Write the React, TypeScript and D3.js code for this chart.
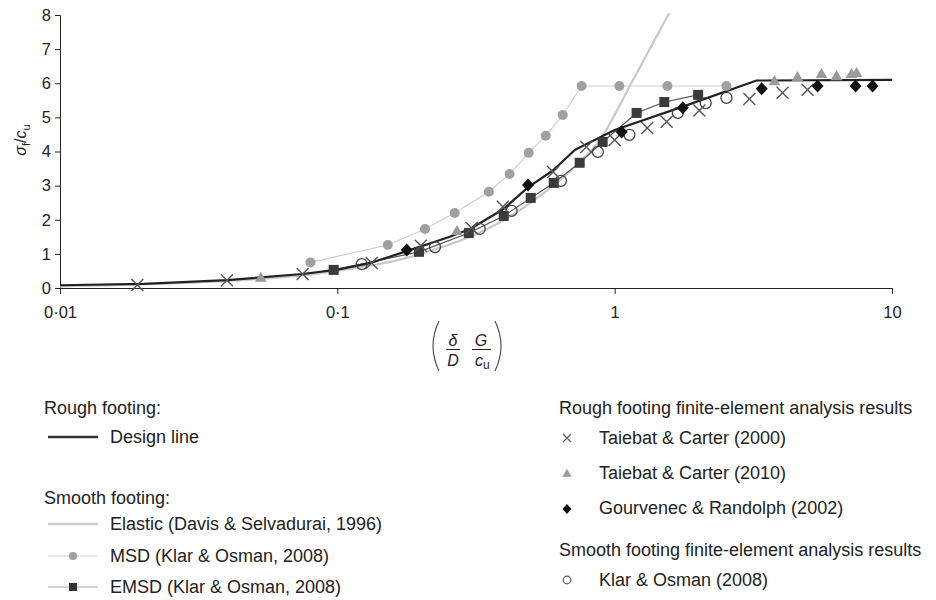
import { useEffect, useRef } from "react";
import * as d3 from "d3";

// Design line (rough footing)
const designX = [0.01, 0.02, 0.04, 0.075, 0.1, 0.13, 0.178, 0.25, 0.3, 0.395, 0.487, 0.6, 0.72, 1.0, 1.74, 3.25, 10];
const designY = [0.08, 0.12, 0.23, 0.41, 0.54, 0.72, 1.08, 1.48, 1.72, 2.3, 2.95, 3.45, 4.05, 4.63, 5.3, 6.08, 6.1];

// Elastic (Davis & Selvadurai, 1996)
const elasticX = [0.01, 0.05, 0.1, 0.2, 0.4, 0.6, 0.75, 0.88, 1.03, 1.13, 1.23, 1.57];
const elasticY = [0.05, 0.25, 0.5, 1.0, 2.0, 3.0, 3.7, 4.3, 5.27, 5.9, 6.45, 8.05];

// MSD (Klar & Osman, 2008)
const msdX = [0.08, 0.152, 0.207, 0.265, 0.352, 0.418, 0.49, 0.564, 0.65, 0.76, 1.04, 1.55, 2.53];
const msdY = [0.75, 1.26, 1.73, 2.2, 2.82, 3.34, 3.96, 4.46, 5.07, 5.92, 5.92, 5.92, 5.92];

// EMSD (Klar & Osman, 2008)
const emsdX = [0.097, 0.197, 0.298, 0.398, 0.498, 0.603, 0.748, 0.905, 1.2, 1.51, 2.0];
const emsdY = [0.53, 1.06, 1.61, 2.11, 2.64, 3.08, 3.67, 4.28, 5.13, 5.45, 5.66];

// Taiebat & Carter (2000)
const tc2000X = [0.019, 0.04, 0.075, 0.133, 0.2, 0.305, 0.395, 0.6, 0.79, 1.0, 1.31, 1.54, 2.02, 3.06, 4.03, 4.96];
const tc2000Y = [0.09, 0.23, 0.41, 0.73, 1.24, 1.76, 2.38, 3.4, 4.13, 4.34, 4.69, 4.87, 5.2, 5.54, 5.72, 5.81];

// Taiebat & Carter (2010)
const tc2010X = [0.053, 0.27, 3.77, 4.56, 5.57, 6.31, 7.14, 7.45];
const tc2010Y = [0.28, 1.65, 6.04, 6.16, 6.25, 6.19, 6.25, 6.28];

// Gourvenec & Randolph (2002)
const grX = [0.178, 0.487, 1.06, 1.76, 3.39, 5.39, 7.39, 8.51];
const grY = [1.11, 3.02, 4.57, 5.28, 5.84, 5.92, 5.92, 5.92];

// Klar & Osman (2008) FE
const koX = [0.1225, 0.225, 0.326, 0.425, 0.64, 0.87, 1.13, 1.69, 2.13, 2.53];
const koY = [0.7, 1.2, 1.73, 2.26, 3.14, 3.99, 4.49, 5.13, 5.42, 5.57];

const xTicks = [0.01, 0.1, 1, 10];
const xTickLabels = ["0·01", "0·1", "1", "10"];
const yTicks = [0, 1, 2, 3, 4, 5, 6, 7, 8];

const FONT = "'Liberation Sans', Arial, sans-serif";

export default function App() {
  const svgRef = useRef<SVGSVGElement | null>(null);

  useEffect(() => {
    const width = 936;
    const height = 600;
    const svg = d3.select(svgRef.current).attr("width", width).attr("height", height);
    svg.selectAll("*").remove();
    svg.append("rect").attr("width", width).attr("height", height).attr("fill", "#fff");

    const x = d3.scaleLog().domain([0.01, 10]).range([60, 892]);
    const y = d3.scaleLinear().domain([0, 8]).range([288, 15]);

    const zip = (xs: number[], ys: number[]) => xs.map((v, i) => [v, ys[i]] as [number, number]);
    const line = d3.line<[number, number]>().x(d => x(d[0])).y(d => y(d[1]));

    // Axes
    const xAxis = svg.append("g")
      .attr("transform", "translate(0,288)")
      .call(d3.axisBottom(x).tickValues(xTicks).tickFormat((_, i) => xTickLabels[i]).tickSizeOuter(0).tickSize(6));
    const yAxis = svg.append("g")
      .attr("transform", "translate(60,0)")
      .call(d3.axisLeft(y).tickValues(yTicks).tickSizeOuter(0).tickSize(5));
    [xAxis, yAxis].forEach(a => {
      a.select(".domain").attr("stroke", "#222");
      a.selectAll(".tick line").attr("stroke", "#222");
      a.selectAll(".tick text").attr("font-family", FONT).attr("font-size", 16.5).attr("fill", "#222");
    });
    xAxis.selectAll(".tick text").attr("dy", "1.25em");
    yAxis.selectAll(".tick text").attr("x", -9);

    // Lines
    svg.append("path").datum(zip(elasticX, elasticY))
      .attr("fill", "none").attr("stroke", "#c8c8c8").attr("stroke-width", 2.2)
      .attr("d", line.curve(d3.curveMonotoneX));
    line.curve(d3.curveLinear);
    svg.append("path").datum(zip(msdX, msdY))
      .attr("fill", "none").attr("stroke", "#cfcfcf").attr("stroke-width", 1.2).attr("d", line);
    svg.append("path").datum(zip(emsdX, emsdY))
      .attr("fill", "none").attr("stroke", "#555").attr("stroke-width", 1.2).attr("d", line);
    svg.append("path").datum(zip(designX, designY))
      .attr("fill", "none").attr("stroke", "#222").attr("stroke-width", 2.2)
      .attr("stroke-linejoin", "round").attr("d", line);

    // Markers
    svg.append("g").selectAll("circle").data(zip(msdX, msdY)).join("circle")
      .attr("cx", d => x(d[0])).attr("cy", d => y(d[1])).attr("r", 5).attr("fill", "#a0a0a0");
    svg.append("g").selectAll("rect").data(zip(emsdX, emsdY)).join("rect")
      .attr("x", d => x(d[0]) - 5).attr("y", d => y(d[1]) - 5).attr("width", 10).attr("height", 10).attr("fill", "#3a3a3a");
    const tri = d3.symbol().type(d3.symbolTriangle).size(60);
    svg.append("g").selectAll("path").data(zip(tc2010X, tc2010Y)).join("path")
      .attr("transform", d => `translate(${x(d[0])},${y(d[1])})`).attr("d", tri()).attr("fill", "#9a9a9a");
    svg.append("g").selectAll("circle").data(zip(koX, koY)).join("circle")
      .attr("cx", d => x(d[0])).attr("cy", d => y(d[1])).attr("r", 5.5)
      .attr("fill", "none").attr("stroke", "#444").attr("stroke-width", 1.3);
    svg.append("g").selectAll("path").data(zip(tc2000X, tc2000Y)).join("path")
      .attr("transform", d => `translate(${x(d[0])},${y(d[1])})`)
      .attr("d", "M-6,-6L6,6M-6,6L6,-6").attr("stroke", "#555").attr("stroke-width", 1.4).attr("fill", "none");
    svg.append("g").selectAll("path").data(zip(grX, grY)).join("path")
      .attr("transform", d => `translate(${x(d[0])},${y(d[1])})`)
      .attr("d", "M0,-6.5L6,0L0,6.5L-6,0Z").attr("fill", "#111");

    // Y label
    const yl = svg.append("text").attr("transform", "translate(26,140) rotate(-90)")
      .attr("text-anchor", "middle").attr("font-family", FONT).attr("font-size", 16).attr("fill", "#222");
    yl.append("tspan").attr("font-style", "italic").text("σ");
    yl.append("tspan").attr("font-size", 11).attr("dy", 4).text("f");
    yl.append("tspan").attr("dy", -4).text("/");
    yl.append("tspan").attr("font-style", "italic").text("c");
    yl.append("tspan").attr("font-size", 11).attr("dy", 4).text("u");

    // X label
    const xl = svg.append("g").attr("font-family", FONT).attr("fill", "#222");
    xl.append("path").attr("d", "M439,321 Q427,346 439,371").attr("fill", "none").attr("stroke", "#444").attr("stroke-width", 1.1);
    xl.append("path").attr("d", "M495,321 Q507,346 495,371").attr("fill", "none").attr("stroke", "#444").attr("stroke-width", 1.1);
    xl.append("text").attr("x", 453).attr("y", 346).attr("text-anchor", "middle").attr("font-size", 16).attr("font-style", "italic").text("δ");
    xl.append("line").attr("x1", 446).attr("x2", 460).attr("y1", 349.5).attr("y2", 349.5).attr("stroke", "#222");
    xl.append("text").attr("x", 453).attr("y", 366).attr("text-anchor", "middle").attr("font-size", 16).attr("font-style", "italic").text("D");
    xl.append("text").attr("x", 481).attr("y", 346).attr("text-anchor", "middle").attr("font-size", 16).attr("font-style", "italic").text("G");
    xl.append("line").attr("x1", 472).attr("x2", 491).attr("y1", 349.5).attr("y2", 349.5).attr("stroke", "#222");
    const cu = xl.append("text").attr("x", 475).attr("y", 366).attr("font-size", 16);
    cu.append("tspan").attr("font-style", "italic").text("c");
    cu.append("tspan").attr("font-size", 12).attr("dy", 3).text("u");

    // Legend
    const lg = svg.append("g").attr("font-family", FONT).attr("font-size", 18).attr("fill", "#222");
    const txt = (tx: number, ty: number, s: string) =>
      lg.append("text").attr("x", tx).attr("y", ty).attr("dy", "0.35em").text(s);

    txt(44, 408, "Rough footing:");
    lg.append("line").attr("x1", 48).attr("x2", 98).attr("y1", 437).attr("y2", 437).attr("stroke", "#333").attr("stroke-width", 2.5);
    txt(110, 437, "Design line");
    txt(44, 498, "Smooth footing:");
    lg.append("line").attr("x1", 48).attr("x2", 98).attr("y1", 524).attr("y2", 524).attr("stroke", "#cfcfcf").attr("stroke-width", 2.5);
    txt(110, 524, "Elastic (Davis & Selvadurai, 1996)");
    lg.append("line").attr("x1", 48).attr("x2", 98).attr("y1", 556).attr("y2", 556).attr("stroke", "#d0d0d0").attr("stroke-width", 1.2);
    lg.append("circle").attr("cx", 73).attr("cy", 556).attr("r", 4).attr("fill", "#a0a0a0");
    txt(110, 556, "MSD (Klar & Osman, 2008)");
    lg.append("line").attr("x1", 48).attr("x2", 98).attr("y1", 587).attr("y2", 587).attr("stroke", "#aaa").attr("stroke-width", 1.2);
    lg.append("rect").attr("x", 69).attr("y", 583).attr("width", 8).attr("height", 8).attr("fill", "#333");
    txt(110, 587, "EMSD (Klar & Osman, 2008)");

    txt(559, 408, "Rough footing finite-element analysis results");
    lg.append("path").attr("transform", "translate(567,438)").attr("d", "M-4,-4L4,4M-4,4L4,-4").attr("stroke", "#666").attr("stroke-width", 1.3);
    txt(599, 438, "Taiebat & Carter (2000)");
    lg.append("path").attr("transform", "translate(567,474)").attr("d", d3.symbol().type(d3.symbolTriangle).size(36)()).attr("fill", "#9a9a9a");
    txt(599, 473, "Taiebat & Carter (2010)");
    lg.append("path").attr("transform", "translate(567,509)").attr("d", "M0,-5L4.5,0L0,5L-4.5,0Z").attr("fill", "#111");
    txt(599, 508, "Gourvenec & Randolph (2002)");
    txt(559, 550, "Smooth footing finite-element analysis results");
    lg.append("circle").attr("cx", 567).attr("cy", 580).attr("r", 3.8).attr("fill", "none").attr("stroke", "#555").attr("stroke-width", 1.2);
    txt(599, 580, "Klar & Osman (2008)");
  }, []);

  return <svg ref={svgRef} style={{ position: "absolute", left: 0, top: 0 }}></svg>;
}
